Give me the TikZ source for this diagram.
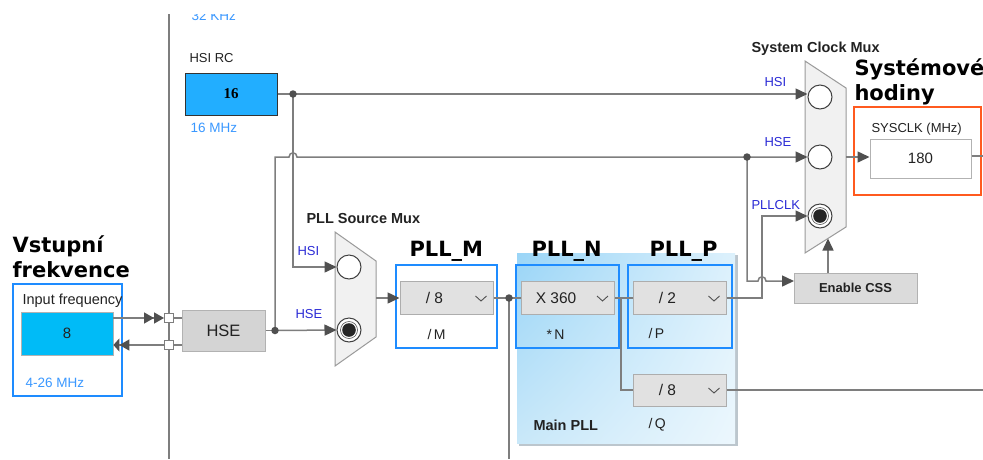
\documentclass[tikz,border=0pt]{standalone}
\usepackage{fontspec}
\setmainfont{Liberation Sans}
\newfontfamily\dvb{DejaVu Sans}
\newfontfamily\serifb{Liberation Serif}
\usetikzlibrary{arrows.meta,calc,shadings}
\definecolor{wire}{HTML}{7E7E7E}
\definecolor{tipc}{HTML}{505050}
\definecolor{hsiblue}{HTML}{22AEFF}
\definecolor{inblue}{HTML}{00BBF7}
\definecolor{lblblue}{HTML}{3A98FF}
\definecolor{sigblue}{HTML}{2B2BD6}
\definecolor{frameblue}{HTML}{1E8CFF}
\definecolor{orangeframe}{HTML}{FF5A1F}
\definecolor{ddfill}{HTML}{E1E1E1}
\definecolor{ddline}{HTML}{ADADAD}
\definecolor{muxfill}{HTML}{F1F1F1}
\definecolor{muxline}{HTML}{9A9A9A}
\definecolor{pllA}{HTML}{9AD5F7}
\definecolor{pllB}{HTML}{DDF1FC}
\definecolor{pllC}{HTML}{C9E8F9}
\definecolor{pllD}{HTML}{ECF7FD}
\definecolor{pllshadow}{HTML}{BCC6CD}
\definecolor{txt}{HTML}{222222}
\tikzset{
  wire/.style={draw=wire, line width=1.5pt},
  arr/.style={wire, -{Triangle[length=12pt,width=11pt,color=tipc]}},
  sepline/.style={draw=wire, line width=1.5pt},
  jdot/.style={circle, fill=tipc, minimum size=7.5pt, inner sep=0pt},
  sq/.style={draw=wire, fill=white, line width=1pt, minimum size=9pt, inner sep=0pt},
  dd/.style={draw=ddline, fill=ddfill, line width=1pt, minimum width=93pt, minimum height=33pt},
  ddtxt/.style={font=\fontsize{15.5}{18}\selectfont, text=txt},
  chev/.style={draw=tipc, line width=0.9pt},
  bframe/.style={draw=frameblue, line width=2pt},
  lbl/.style={font=\fontsize{13}{15}\selectfont, text=txt},
  lblb/.style={font=\fontsize{13.5}{15}\selectfont, text=lblblue},
  sig/.style={font=\fontsize{13}{15}\selectfont, text=sigblue},
  ttl/.style={font=\bfseries\fontsize{14.5}{17}\selectfont, text=txt},
  big/.style={font=\dvb\bfseries\fontsize{21}{25}\selectfont, text=black},
  mux/.style={draw=muxline, fill=muxfill, line width=1pt},
  opencirc/.style={circle, draw=black!75, fill=white, line width=1pt, minimum size=24pt, inner sep=0pt},
  selcirc/.style={circle, draw=black!75, fill=white, line width=1pt, minimum size=24pt, inner sep=0pt,
    path picture={\fill[draw=tipc, line width=0.6pt, fill=white] (path picture bounding box.center) circle[radius=8.5pt];
                  \fill[black!85] (path picture bounding box.center) circle[radius=6.8pt];}},
}
\begin{document}
\begin{tikzpicture}[x=1pt,y=-1pt]
\useasboundingbox[fill=white] (0,0) rectangle (983,459);

% ---------- Main PLL background ----------
\fill[pllshadow] (519,255) rectangle (737.5,445.5);
\shade[upper left=pllA, upper right=pllB, lower left=pllC, lower right=pllD] (517,253) rectangle (735,443);
\node[ttl, anchor=base west] (mainpll) at (530,430) {Main PLL};

% ---------- separator ----------
\coordinate (septop) at (169,14);
\coordinate (sepbot) at (169,459);
\draw[sepline] (septop) -- (sepbot);
\begin{scope}
  \clip (175,14) rectangle (300,40);
  \node[lblb, anchor=base west] (lse) at (188,20) {32 KHz};
\end{scope}

% ---------- HSI RC ----------
\node[lbl, anchor=base west] (hsirc) at (186,62) {HSI RC};
\node[draw=black!80, fill=hsiblue, line width=1pt, minimum width=92pt, minimum height=42pt,
      font=\serifb\bfseries\fontsize{15}{18}\selectfont] (hsi) at (231,94) {16};
\node[lblb, anchor=base west] (hsimhz) at (187,132) {16 MHz};

% ---------- input frequency ----------
\node[big, anchor=base west] (vst1) at (9,252) {Vstupní};
\node[big, anchor=base west] (vst2) at (9,277) {frekvence};
\node[bframe, minimum width=109pt, minimum height=112pt] (inframe) at (67.5,340) {};
\node[lbl, anchor=base west, font=\fontsize{14.5}{16}\selectfont] (inlbl) at (19,304) {Input frequency};
\node[draw=black!30, fill=inblue, line width=0.8pt, minimum width=92pt, minimum height=43pt,
      font=\fontsize{15}{18}\selectfont, text=txt] (inbox) at (67,333.5) {8};
\node[lblb, anchor=base west] (inrange) at (22,387) {4-26 MHz};

\node[sq] (sq1) at (169,318) {};
\node[sq] (sq2) at (169,345) {};

% ---------- HSE ----------
\node[draw=black!30, fill=black!17, line width=1pt, minimum width=83pt, minimum height=41pt,
      font=\fontsize{16.5}{19}\selectfont, text=txt] (hse) at (223.5,330.5) {HSE};

\draw[wire, -{Triangle[length=10pt,width=11pt,color=tipc]Triangle[length=10pt,width=11pt,color=tipc]}]
   (inbox.east |- sq1) -- (sq1.west);
\draw[wire, -{Triangle[length=10pt,width=11pt,color=tipc]Triangle[length=6pt,width=13pt,color=tipc]}]
   (sq2.west) -- (inbox.east |- sq2);
\draw[wire] (sq1.east) -- (hse.west |- sq1);
\draw[wire] (sq2.east) -- (hse.west |- sq2);

% ---------- PLL source mux ----------
\node[ttl, anchor=base west] (srcmuxlbl) at (303,223) {PLL Source Mux};
\draw[mux] (335,232) -- (376,261) -- (376,337) -- (335,366) -- cycle;
\node[opencirc] (pc1) at (349,267) {};
\node[selcirc] (pc2) at (349,330) {};
\node[sig, anchor=base west] (srchsi) at (294,255) {HSI};
\node[sig, anchor=base west] (srchse) at (292,318) {HSE};
\coordinate (srcout) at (376,298);

% ---------- System clock mux ----------
\node[ttl, anchor=base west] (sysmuxlbl) at (748,52) {System Clock Mux};
\draw[mux] (805,61) -- (846,88) -- (846,227) -- (805,253) -- cycle;
\node[opencirc] (sc1) at (820,97) {};
\node[opencirc] (sc2) at (820,157) {};
\node[selcirc] (sc3) at (820,216) {};
\node[sig, anchor=base west] (syshsi) at (761,86) {HSI};
\node[sig, anchor=base west] (syshse) at (761,146) {HSE};
\node[sig, anchor=base west] (syspll) at (748,209) {PLLCLK};
\coordinate (sysout) at (846,157);
\coordinate (muxbot) at (828,238.5);

% ---------- SYSCLK ----------
\node[big, anchor=base west] (sys1) at (851,75) {Systémové};
\node[big, anchor=base west] (sys2) at (851,100) {hodiny};
\node[draw=orangeframe, line width=2pt, minimum width=127pt, minimum height=88pt] (sysframe) at (917.5,151) {};
\node[lbl, anchor=base west] (syslbl) at (868,132) {SYSCLK (MHz)};
\node[draw=black!30, fill=white, line width=1pt, minimum width=101pt, minimum height=39pt,
      font=\fontsize{15}{18}\selectfont, text=txt] (sysbox) at (920.5,158.5) {180};
\coordinate (sysright) at (983,156);

% ---------- PLL dividers ----------
\node[big, anchor=base west] (tm) at (406,256) {PLL\_M};
\node[big, anchor=base west] (tn) at (528,256) {PLL\_N};
\node[big, anchor=base west] (tp) at (646,256) {PLL\_P};

\node[bframe, minimum width=101pt, minimum height=83pt] (fm) at (446.5,306.5) {};
\node[bframe, minimum width=103pt, minimum height=83pt] (fn) at (567.5,306.5) {};
\node[bframe, minimum width=104pt, minimum height=83pt] (fp) at (680,306.5) {};

\node[dd] (ddm) at (446.5,298) {};
\node[dd] (ddn) at (568,298) {};
\node[dd] (ddp) at (679.5,298) {};
\node[dd, minimum height=32pt] (ddq) at (679.5,390) {};
\node[ddtxt] (ddmt) at ([xshift=-12pt]ddm.center) {/ 8};
\node[ddtxt] (ddnt) at ([xshift=-12pt]ddn.center) {X 360};
\node[ddtxt] (ddpt) at ([xshift=-12pt]ddp.center) {/ 2};
\node[ddtxt] (ddqt) at ([xshift=-12pt]ddq.center) {/ 8};
\foreach \n in {ddm,ddn,ddp,ddq}{
  \draw[chev] ([shift={(-18,-2)}]\n.east) -- ++(5.5,5) -- ++(5.5,-5);
}
\node[lbl, anchor=base west, font=\fontsize{14}{16}\selectfont] (sm) at (424,339) {/\,M};
\node[lbl, anchor=base west, font=\fontsize{14}{16}\selectfont] (sn) at (543,339) {*\,N};
\node[lbl, anchor=base west, font=\fontsize{14}{16}\selectfont] (spp) at (645,338) {/\,P};
\node[lbl, anchor=base west, font=\fontsize{14}{16}\selectfont] (sq) at (645,428) {/\,Q};

% ---------- Enable CSS ----------
\node[draw=black!30, fill=black!14, line width=1pt, minimum width=123pt, minimum height=30pt,
      font=\bfseries\fontsize{13}{15}\selectfont, text=txt] (css) at (855.5,288) {Enable CSS};
\coordinate (cssin) at (794,281);

% ---------- wires ----------
\coordinate (jhsi) at (293,94);
\coordinate (jhse) at (275,330.5);
\coordinate (jhse2) at (747,157);
\coordinate (jn) at (509,298);
\coordinate (jq) at (621,298);
\coordinate (pcorner) at (762,298);
\coordinate (cssleft) at (747,281);
\coordinate (jnbot) at (509,459);
\coordinate (qright) at (983,390);

% HSI
\draw[arr] (hsi.east) -- (jhsi) -- (jhsi -| sc1.west);
\draw[arr] (jhsi) |- (pc1.west);
% HSE
\draw[wire] (hse.east) -- (jhse);
\draw[arr] (jhse) -- (pc2.west);
\draw[arr] (jhse) -- (275,157) -- (289,157) .. controls (289,151.5) and (297,151.5) .. (297,157)
   -- (jhse2) -- (sc2.west);
\draw[arr] (jhse2) -- (cssleft) -- (758,281) .. controls (758,275.5) and (766,275.5) .. (766,281) -- (cssin);
% source mux to PLL
\draw[arr] (srcout) -- (ddm.west);
\draw[wire] (ddm.east) -- (jn) -- (ddn.west);
\draw[wire] (jn) -- (jnbot);
\draw[wire] (ddn.east) -- (ddp.west);
\draw[wire] (jq) |- (ddq.west);
\draw[wire] (ddq.east) -- (qright);
\draw[arr] (ddp.east) -- (pcorner) |- (sc3.west);
% CSS to mux
\draw[arr] (css.north -| muxbot) -- (muxbot);
% sys mux to SYSCLK
\draw[arr] (sysout) -- (sysbox.west |- sysout);
\draw[wire] (sysbox.east |- sysright) -- (sysright);

% junction dots
\node[jdot] (d1) at (jhsi) {};
\node[jdot] (d2) at (jhse) {};
\node[jdot] (d3) at (jhse2) {};
\node[jdot] (d4) at (jn) {};
\end{tikzpicture}
\end{document}
